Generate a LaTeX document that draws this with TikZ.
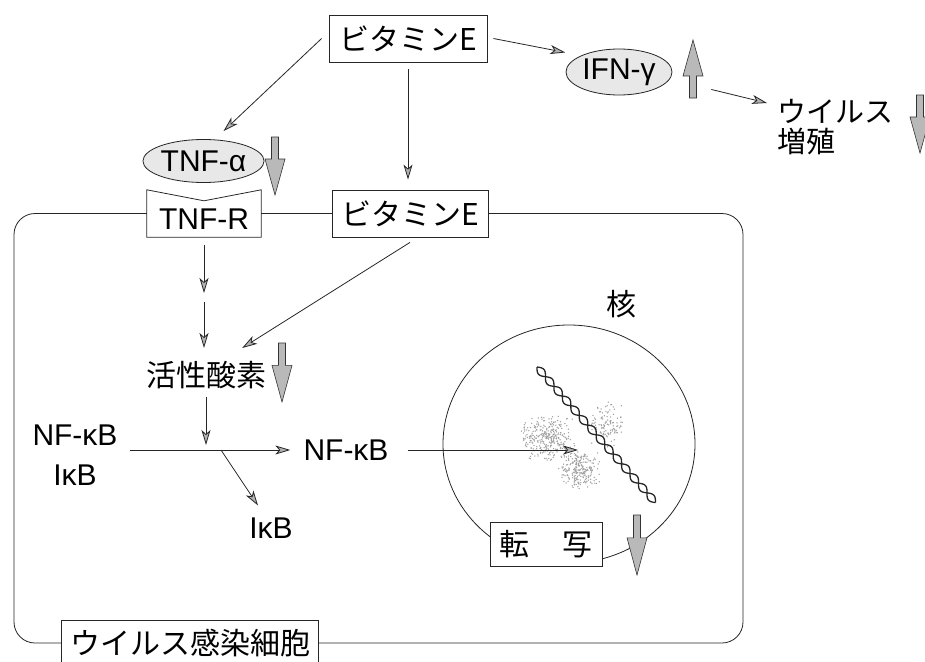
\documentclass[tikz,border=0pt]{standalone}
\usepackage{fontspec}
\setmainfont{Liberation Sans}
\newfontfamily\jp{Noto Sans CJK JP}
\usetikzlibrary{arrows.meta,calc,shapes.geometric}

% thick gray up/down marker: x, tail y, tip y
\newcommand{\trend}[3]{%
  \pgfmathsetmacro\trendneck{#3+0.62*(#2-#3)}%
  \filldraw[trendarrow] (#1-3.5,#2) -- (#1+3.5,#2) -- (#1+3.5,\trendneck) -- (#1+10,\trendneck)
    -- (#1,#3) -- (#1-10,\trendneck) -- (#1-3.5,\trendneck) -- cycle;}

\begin{document}
\begin{tikzpicture}[
  x=1pt,
  y=-1pt,
  font=\fontsize{30}{36}\selectfont,
  line/.style={draw=black!85,line width=0.8pt},
  arr/.style={line,-{Stealth[length=15pt,width=9pt,inset=4pt,fill=gray!60]}},
  jp/.style={font=\jp\fontsize{30}{36}\selectfont},
  lbl/.style={inner sep=2pt},
  box/.style={line,fill=white,inner sep=0pt,minimum height=47pt},
  oval/.style={line,ellipse,fill=gray!18,inner sep=0pt},
  membrane/.style={line,rounded corners=21pt},
  trendarrow/.style={fill=gray!55,draw=black!80,line width=0.6pt},
  dna/.style={draw=black!85,line width=1.3pt},
  speck/.style={fill=gray!75}
]
\useasboundingbox (0,0) rectangle (925,661);

% ---------------------------------------------------------------
% outside the cell
% ---------------------------------------------------------------
\node[box,jp,minimum width=158pt] (vitE) at (408,38.5) {ビタミンE};
\node[oval,minimum width=106pt,minimum height=46pt] (ifng) at (619,72) {IFN-γ};
\node[lbl,anchor=north west,align=left,font=\jp\fontsize{29}{30}\selectfont] (virus) at (775,97)
  {ウイルス\\増殖};
\node[oval,minimum width=103pt,minimum height=43pt] (tnfa) at (203.5,161) {TNF-α};

% ---------------------------------------------------------------
% cell membrane with receptor and vitamin E
% ---------------------------------------------------------------
\node[inner sep=0pt,minimum width=114pt,minimum height=47pt,text height=34pt,text depth=2pt]
  (tnfr) at (204,213.5) {TNF-R};
\draw[line] (tnfr.south west) -- (tnfr.north west) -- ([yshift=-11pt]tnfr.north)
  -- (tnfr.north east) -- (tnfr.south east) -- cycle;
\node[box,jp,minimum width=156pt] (vitE2) at (410,213.5) {ビタミンE};
\node[box,jp,minimum width=257pt,minimum height=46pt] (cellbox) at (190,643) {ウイルス感染細胞};

\coordinate (cellNW) at (14,213);
\coordinate (cellSE) at (743,643);
\draw[membrane] (tnfr.west) -- (tnfr.west -| cellNW) |- (cellbox.west);
\draw[membrane] (vitE2.east) -| (cellSE) -- (cellbox.east);
\draw[line] (tnfr.east) -- (vitE2.west);

% ---------------------------------------------------------------
% cytoplasm
% ---------------------------------------------------------------
\node[lbl,jp] (ros) at (206,375) {活性酸素};
\node[lbl,align=center,font=\fontsize{30}{40}\selectfont] (nfkbikb) at (75,455) {NF-κB\\IκB};
\node[lbl] (nfkb) at (346,450) {NF-κB};
\node[lbl] (ikb) at (271,528) {IκB};
\coordinate (tnfrgap) at (204,297);
\coordinate (split) at ($(ros.south |- nfkb.west)+(15,0)$);

% ---------------------------------------------------------------
% nucleus
% ---------------------------------------------------------------
\node[line,ellipse,minimum width=252pt,minimum height=238pt,inner sep=0pt] (nucleus) at (569,444) {};
\node[lbl,jp] (nuclabel) at (621,304) {核};
\coordinate (dnasite) at (578,450);

% stippled binding region
\pgfmathsetseed{11}
\foreach \cx/\cy/\rx/\ry/\n in {548/438/30/24/320, 580/470/22/20/240, 606/424/18/24/110}{
  \foreach \i in {1,...,\n}{
    \fill[speck] ({\cx+\rx*(rand+rand)/2},{\cy+\ry*(rand+rand)/2}) circle (0.75);
  }
}
% double strand
\foreach \s in {1,-1}{
  \draw[dna] plot[domain=0:180,samples=220,variable=\t]
    ({537+0.658*\t+\s*3.6*0.753*sin(14*\t)},{367+0.753*\t-\s*3.6*0.658*sin(14*\t)});
}

\node[box,jp,minimum width=112pt,minimum height=44pt] (trans) at (546,544) {転\hspace{1.1em}写};

% ---------------------------------------------------------------
% connectors
% ---------------------------------------------------------------
\draw[arr] ([xshift=-7pt]vitE.west) -- ([xshift=20pt,yshift=8pt]tnfa.north);
\draw[arr,shorten <=7pt,shorten >=10pt] (vitE.south) -- (vitE.south |- vitE2.north);
\draw[arr] ([xshift=6pt]vitE.east) -- ([xshift=-16pt,yshift=3pt]ifng.north west);
\draw[arr,shorten <=40pt] ([yshift=-8pt]ifng.east) -- ([xshift=-8pt,yshift=-6pt]virus.north west);

\draw[arr,shorten <=8pt,shorten >=4pt] (tnfr.south) -- (tnfrgap);
\draw[arr,shorten <=5pt,shorten >=11pt] (tnfrgap) -- (tnfrgap |- ros.north);
\draw[arr] ([yshift=-5pt]vitE2.south) -- ([xshift=-26pt,yshift=11pt]ros.north east);
\draw[arr,shorten <=6pt,shorten >=5pt] (ros.south) -- (ros.south |- nfkb.west);

\draw[arr,shorten <=10pt,shorten >=11pt] (nfkbikb.east |- nfkb.west) -- (nfkb.west);
\draw[arr] (split) -- ([xshift=-13pt,yshift=10pt]ikb.north);
\draw[arr,shorten <=17pt] (nfkb.east) -- (nfkb.east -| dnasite);

% ---------------------------------------------------------------
% up / down markers
% ---------------------------------------------------------------
\trend{275}{137}{195}
\trend{693}{98}{40}
\trend{920}{95}{153}
\trend{282}{343}{402}
\trend{637}{515}{575}

\end{tikzpicture}
\end{document}
